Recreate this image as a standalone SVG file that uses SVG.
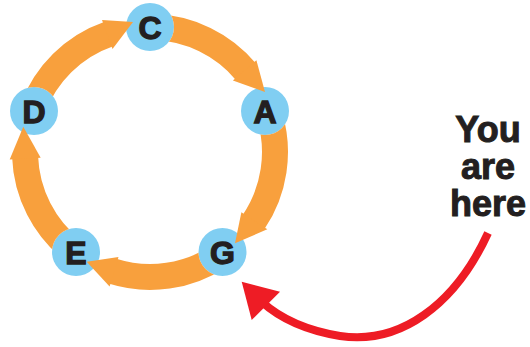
<svg xmlns="http://www.w3.org/2000/svg" width="530" height="347" viewBox="0 0 530 347">
<style>
.band{fill:none;stroke:#F8A03D;stroke-width:26;stroke-linecap:butt}
.head{fill:#F8A03D}
.node{fill:#80CEF2}
.lbl{font-family:"Liberation Sans",Arial,sans-serif;font-weight:bold;font-size:32px;fill:#231F20;stroke:#231F20;stroke-width:1.3;text-anchor:middle}
.here{font-family:"Liberation Sans",Arial,sans-serif;font-weight:bold;font-size:36px;fill:#231F20;stroke:#231F20;stroke-width:1;text-anchor:middle}
</style>
<defs>
<mask id="holes" maskUnits="userSpaceOnUse" x="0" y="0" width="530" height="347">
<rect x="0" y="0" width="530" height="347" fill="#fff"/>
<circle cx="150" cy="27" r="24" fill="#000"/>
<circle cx="265" cy="111" r="24" fill="#000"/>
<circle cx="222.5" cy="252" r="24" fill="#000"/>
<circle cx="76" cy="252" r="24" fill="#000"/>
<circle cx="34" cy="111" r="24" fill="#000"/>
</mask>
</defs>
<rect width="530" height="347" fill="#fff"/>
<g id="node-C"><circle class="node" cx="150" cy="27" r="24"/><text class="lbl" x="150" y="38.5">C</text></g>
<g id="node-A"><circle class="node" cx="265" cy="111" r="24"/><text class="lbl" x="265" y="122.5">A</text></g>
<g id="node-G"><circle class="node" cx="222.5" cy="252" r="24"/><text class="lbl" x="222.5" y="263.5">G</text></g>
<g id="node-E"><circle class="node" cx="76" cy="252" r="24"/><text class="lbl" x="76" y="263.5">E</text></g>
<g id="node-D"><circle class="node" cx="34" cy="111" r="24"/><text class="lbl" x="34" y="122.5">D</text></g>
<g id="connectors">
<g mask="url(#holes)">
<path class="band" d="M154.4 27.1 A125 125 0 0 1 245.8 71.6"/>
<path class="band" d="M269.5 115.5 A125 125 0 0 1 253.4 222.3"/>
<path class="band" d="M219.9 255.6 A125 125 0 0 1 112.4 271.2"/>
<path class="band" d="M73 250.5 A125 125 0 0 1 25.1 156.8"/>
<path class="band" d="M32.5 109.2 A125 125 0 0 1 108.9 33.95"/>
</g>
<polygon class="head" points="232.9,80.5 265,92 256.4,60.2"/>
<polygon class="head" points="241.4,212.3 235,243.3 267.3,229.3"/>
<polygon class="head" points="118.5,256.9 86.7,261.7 109.6,286.6"/>
<polygon class="head" points="40.7,157.7 23.3,126.7 9.7,159.4"/>
<polygon class="head" points="112.5,49.1 133,22 102,20"/>
<path d="M488 233 C455 305 400 345 340 336 C310 331 283 321 262 302" fill="none" stroke="#EE1C25" stroke-width="8"/>
<polygon points="280,291.7 241.7,281.7 251.7,320" fill="#EE1C25"/>
</g>
<g id="label-here">
<text class="here" x="488" y="142">You</text>
<text class="here" x="488" y="179">are</text>
<text class="here" x="488" y="216">here</text>
</g>
</svg>
